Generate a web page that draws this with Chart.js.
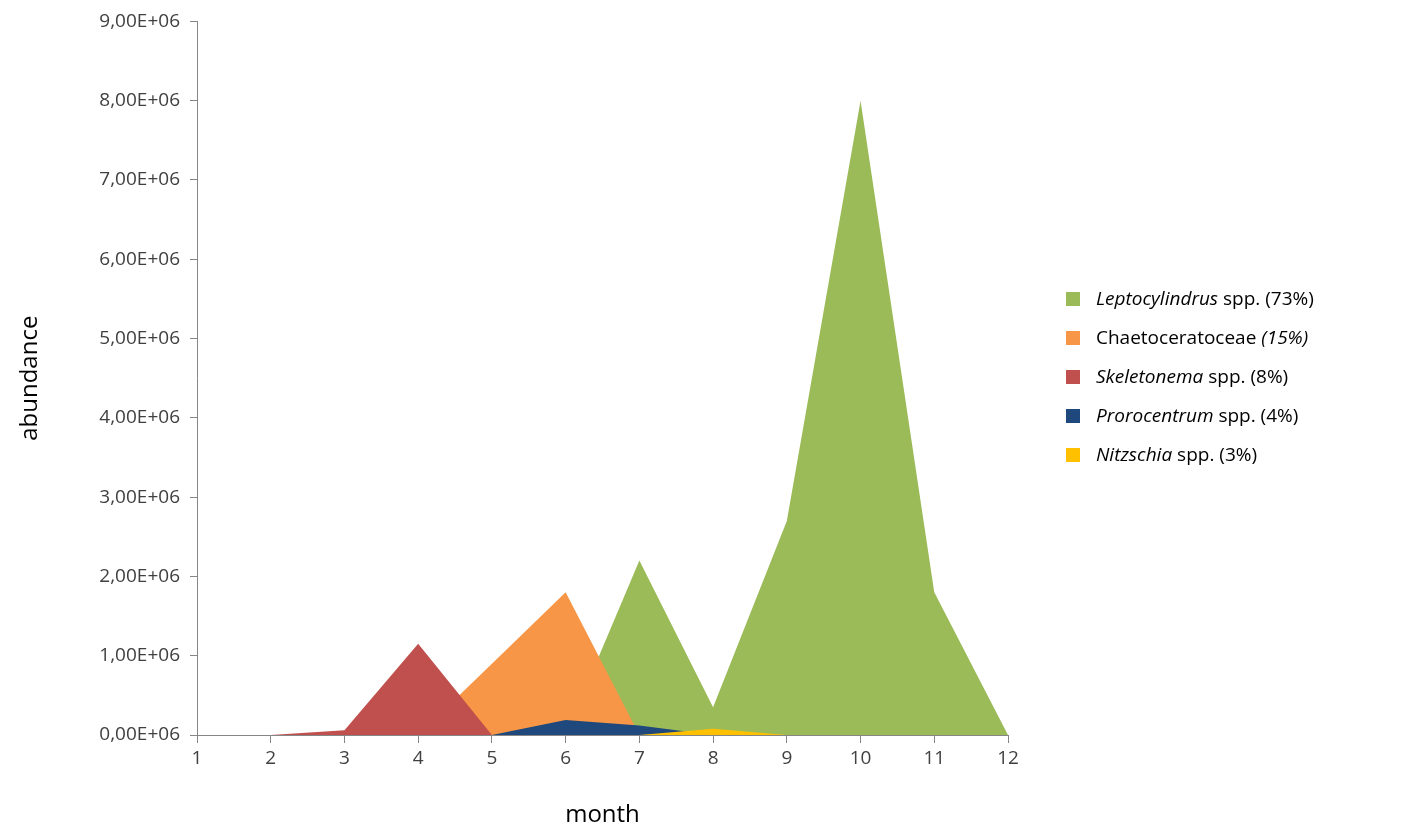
<!DOCTYPE html>
<html>
<head>
<meta charset="utf-8">
<script src="https://cdn.jsdelivr.net/npm/chart.js@4"></script>
<style>
  body { margin: 0; background: #fff; font-family: "Open Sans", sans-serif; }
  #wrap { position: relative; width: 1408px; height: 832px; }
  #legend { position: absolute; left: 1066px; top: 279px; font-size: 19px; color: #000; }
  #legend div { height: 39px; line-height: 39px; white-space: nowrap; }
  #legend span.sw { display: inline-block; width: 14px; height: 14px; margin-right: 16px; vertical-align: -1px; }
</style>
</head>
<body>
<div id="wrap">
  <canvas id="chart" width="1408" height="832"></canvas>
  <div id="legend"></div>
</div>
<script>
var months = ['1','2','3','4','5','6','7','8','9','10','11','12'];
var leptocylindrus = [0, 0, 0, 0, 0, 0, 2.2e6, 0.35e6, 2.7e6, 8.0e6, 1.8e6, 0];
var chaetoceratoceae = [0, 0, 0, 0, 0.9e6, 1.8e6, 0, 0, 0, 0, 0, 0];
var skeletonema = [0, 0, 0.06e6, 1.15e6, 0, 0, 0, 0, 0, 0, 0, 0];
var prorocentrum = [0, 0, 0, 0, 0, 0.19e6, 0.12e6, 0, 0, 0, 0, 0];
var nitzschia = [0, 0, 0, 0, 0, 0, 0, 0.08e6, 0, 0, 0, 0];
var yTicks = [0, 1e6, 2e6, 3e6, 4e6, 5e6, 6e6, 7e6, 8e6, 9e6];

var legendHtml = [
  ['#9bbb59', '<i>Leptocylindrus</i> spp. (73%)'],
  ['#f79646', 'Chaetoceratoceae <i>(15%)</i>'],
  ['#c0504d', '<i>Skeletonema</i> spp. (8%)'],
  ['#1f497d', '<i>Prorocentrum</i> spp. (4%)'],
  ['#ffc000', '<i>Nitzschia</i> spp. (3%)']
];
document.getElementById('legend').innerHTML = legendHtml.map(function (l) {
  return '<div><span class="sw" style="background:' + l[0] + '"></span>' + l[1] + '</div>';
}).join('');

function area(label, data, color, order) {
  return { label: label, data: data, backgroundColor: color, borderWidth: 0,
    fill: 'origin', pointRadius: 0, tension: 0, order: order };
}

new Chart(document.getElementById('chart'), {
  type: 'line',
  data: {
    labels: months,
    datasets: [
      area('Leptocylindrus spp. (73%)', leptocylindrus, '#9bbb59', 5),
      area('Chaetoceratoceae (15%)', chaetoceratoceae, '#f79646', 4),
      area('Skeletonema spp. (8%)', skeletonema, '#c0504d', 3),
      area('Prorocentrum spp. (4%)', prorocentrum, '#1f497d', 2),
      area('Nitzschia spp. (3%)', nitzschia, '#ffc000', 1)
    ]
  },
  options: {
    responsive: false,
    animation: false,
    layout: { padding: { left: 16, right: 400, top: 18, bottom: 2 } },
    plugins: { legend: { display: false }, tooltip: { enabled: false } },
    scales: {
      x: {
        offset: false,
        afterFit: function (s) { s.height = 95; },
        grid: { display: true, drawOnChartArea: false, drawTicks: true, tickLength: 8, color: '#868686' },
        border: { color: '#868686' },
        ticks: { color: '#404040', font: { family: 'Open Sans', size: 19 }, maxRotation: 0, padding: 4 },
        title: { display: true, text: 'month', color: '#000', font: { family: 'Open Sans', size: 24 }, padding: { top: 19, bottom: 0 } }
      },
      y: {
        min: 0, max: 9e6,
        afterFit: function (s) { s.width = 181; },
        afterBuildTicks: function (s) { s.ticks = yTicks.map(function (v) { return { value: v }; }); },
        grid: { display: true, drawOnChartArea: false, drawTicks: true, tickLength: 7, color: '#868686' },
        border: { color: '#868686' },
        ticks: {
          color: '#404040', font: { family: 'Open Sans', size: 19 }, padding: 10,
          callback: function (v) { return (v / 1e6).toFixed(2).replace('.', ',') + 'E+06'; }
        },
        title: { display: true, text: 'abundance', color: '#000', font: { family: 'Open Sans', size: 24 }, padding: { top: 0, bottom: 44 } }
      }
    }
  }
});
</script>
</body>
</html>
